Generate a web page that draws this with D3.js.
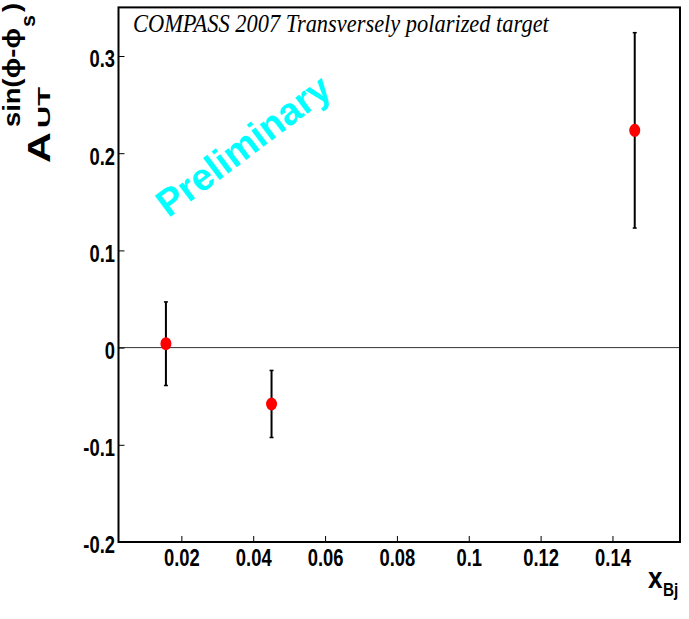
<html>
<head>
<meta charset="utf-8">
<script src="https://d3js.org/d3.v7.min.js"></script>
<style>
body { margin: 0; background: #fff; }
svg { display: block; }
</style>
</head>
<body>
<div id="chart"></div>
<script>
// values
var xBj = [0.0157, 0.0451, 0.1462];
var asym = [0.004, -0.058, 0.2235];
var asymErr = [0.043, 0.0345, 0.1005];
var xTicks = [0.02, 0.04, 0.06, 0.08, 0.1, 0.12, 0.14];
var yTicks = [-0.2, -0.1, 0, 0.1, 0.2, 0.3];

var width = 689, height = 619;
var sans = "'Liberation Sans', Arial, sans-serif";

var svg = d3.select("#chart").append("svg")
	.attr("width", width)
	.attr("height", height);

var x = d3.scaleLinear().domain([0.0025, 0.1588]).range([118.5, 680]);
var y = d3.scaleLinear().domain([-0.2, 0.35]).range([542, 7.4]);

var fmt = d => String(+d.toFixed(2));

// zero line
svg.append("line")
	.attr("x1", x.range()[0]).attr("x2", x.range()[1])
	.attr("y1", y(0)).attr("y2", y(0))
	.attr("stroke", "#333").attr("stroke-width", 1);

// axes, ticks pointing into the frame
var yAxis = svg.append("g")
	.attr("transform", `translate(${x.range()[0]},0)`)
	.call(d3.axisLeft(y).tickValues(yTicks).tickSize(-6).tickFormat(fmt));

var xAxis = svg.append("g")
	.attr("transform", `translate(0,${y.range()[0]})`)
	.call(d3.axisBottom(x).tickValues(xTicks).tickSize(-6).tickFormat(fmt));

[xAxis, yAxis].forEach(function(g) {
	g.select(".domain").remove();
	g.selectAll(".tick line").attr("stroke", "#000").attr("stroke-width", 1);
	g.selectAll(".tick text")
		.style("font-family", sans)
		.style("font-weight", "bold")
		.style("font-size", "23px")
		.attr("fill", "#000");
});

yAxis.selectAll(".tick text")
	.attr("x", null).attr("dy", null)
	.attr("text-anchor", "end")
	.attr("transform", "translate(-3.5,10.9) scale(0.8,1)");

xAxis.selectAll(".tick text")
	.attr("y", null).attr("dy", null)
	.attr("text-anchor", "middle")
	.attr("transform", "translate(0,23.5) scale(0.8,1)");

// frame
svg.append("rect")
	.attr("x", x.range()[0]).attr("y", y.range()[1])
	.attr("width", x.range()[1] - x.range()[0])
	.attr("height", y.range()[0] - y.range()[1])
	.attr("fill", "none").attr("stroke", "#000").attr("stroke-width", 2);

// error bars
var pts = xBj.map((d, i) => ({x: d, v: asym[i], e: asymErr[i]}));

svg.selectAll(".err").data(pts).enter().append("line")
	.attr("class", "err")
	.attr("x1", d => x(d.x)).attr("x2", d => x(d.x))
	.attr("y1", d => y(d.v - d.e)).attr("y2", d => y(d.v + d.e))
	.attr("stroke", "#000").attr("stroke-width", 2);

svg.selectAll(".cap").data(pts.flatMap(d => [d.v - d.e, d.v + d.e].map(v => ({x: d.x, v: v}))))
	.enter().append("line")
	.attr("class", "cap")
	.attr("x1", d => x(d.x) - 2).attr("x2", d => x(d.x) + 2)
	.attr("y1", d => y(d.v)).attr("y2", d => y(d.v))
	.attr("stroke", "#000").attr("stroke-width", 1.5);

svg.selectAll(".pt").data(pts).enter().append("ellipse")
	.attr("class", "pt")
	.attr("cx", d => x(d.x)).attr("cy", d => y(d.v))
	.attr("rx", 5.5).attr("ry", 6.5)
	.attr("fill", "#ff0000");

// texts
function label(str, tf, size, opts) {
	opts = opts || {};
	return svg.append("text")
		.attr("transform", tf)
		.style("font-family", opts.family || sans)
		.style("font-weight", opts.weight || "bold")
		.style("font-style", opts.style || "normal")
		.style("font-size", size + "px")
		.attr("fill", opts.fill || "#000")
		.attr("text-anchor", opts.anchor || "start")
		.text(str);
}

// vertical text squeezed to a given length (along) and cross scale
function vlabel(str, bx, by, size, len, cross) {
	var t = label(str, null, size);
	var w = t.node().getComputedTextLength();
	t.attr("transform", `translate(${bx},${by}) rotate(-90) scale(${len / w},${cross})`);
	return t;
}

var title = label("COMPASS 2007 Transversely polarized target", null, 25,
	{family: "'Liberation Serif', 'Times New Roman', serif", weight: "normal", style: "italic"});
var tw = title.node().getComputedTextLength();
title.attr("transform", `translate(133,32) scale(${416 / tw},1)`);

label("Preliminary", "translate(251,156) rotate(-37)", 38, {fill: "#00ffff", anchor: "middle"});

// y title: A_UT^{sin(phi-phi_s)}
vlabel("A", 50, 163, 43, 31, 0.74);
vlabel("UT", 50, 128, 22, 41, 0.76);
vlabel("sin(\u03d5-\u03d5", 20, 127, 24, 99, 1);
vlabel("s", 35, 27, 20, 12, 1);
vlabel(")", 20, 12, 24, 9, 1);

// x title: x_Bj
label("x", "translate(648,588) scale(0.9,1)", 29);
label("Bj", "translate(663,596) scale(0.85,1)", 18);
</script>
</body>
</html>
